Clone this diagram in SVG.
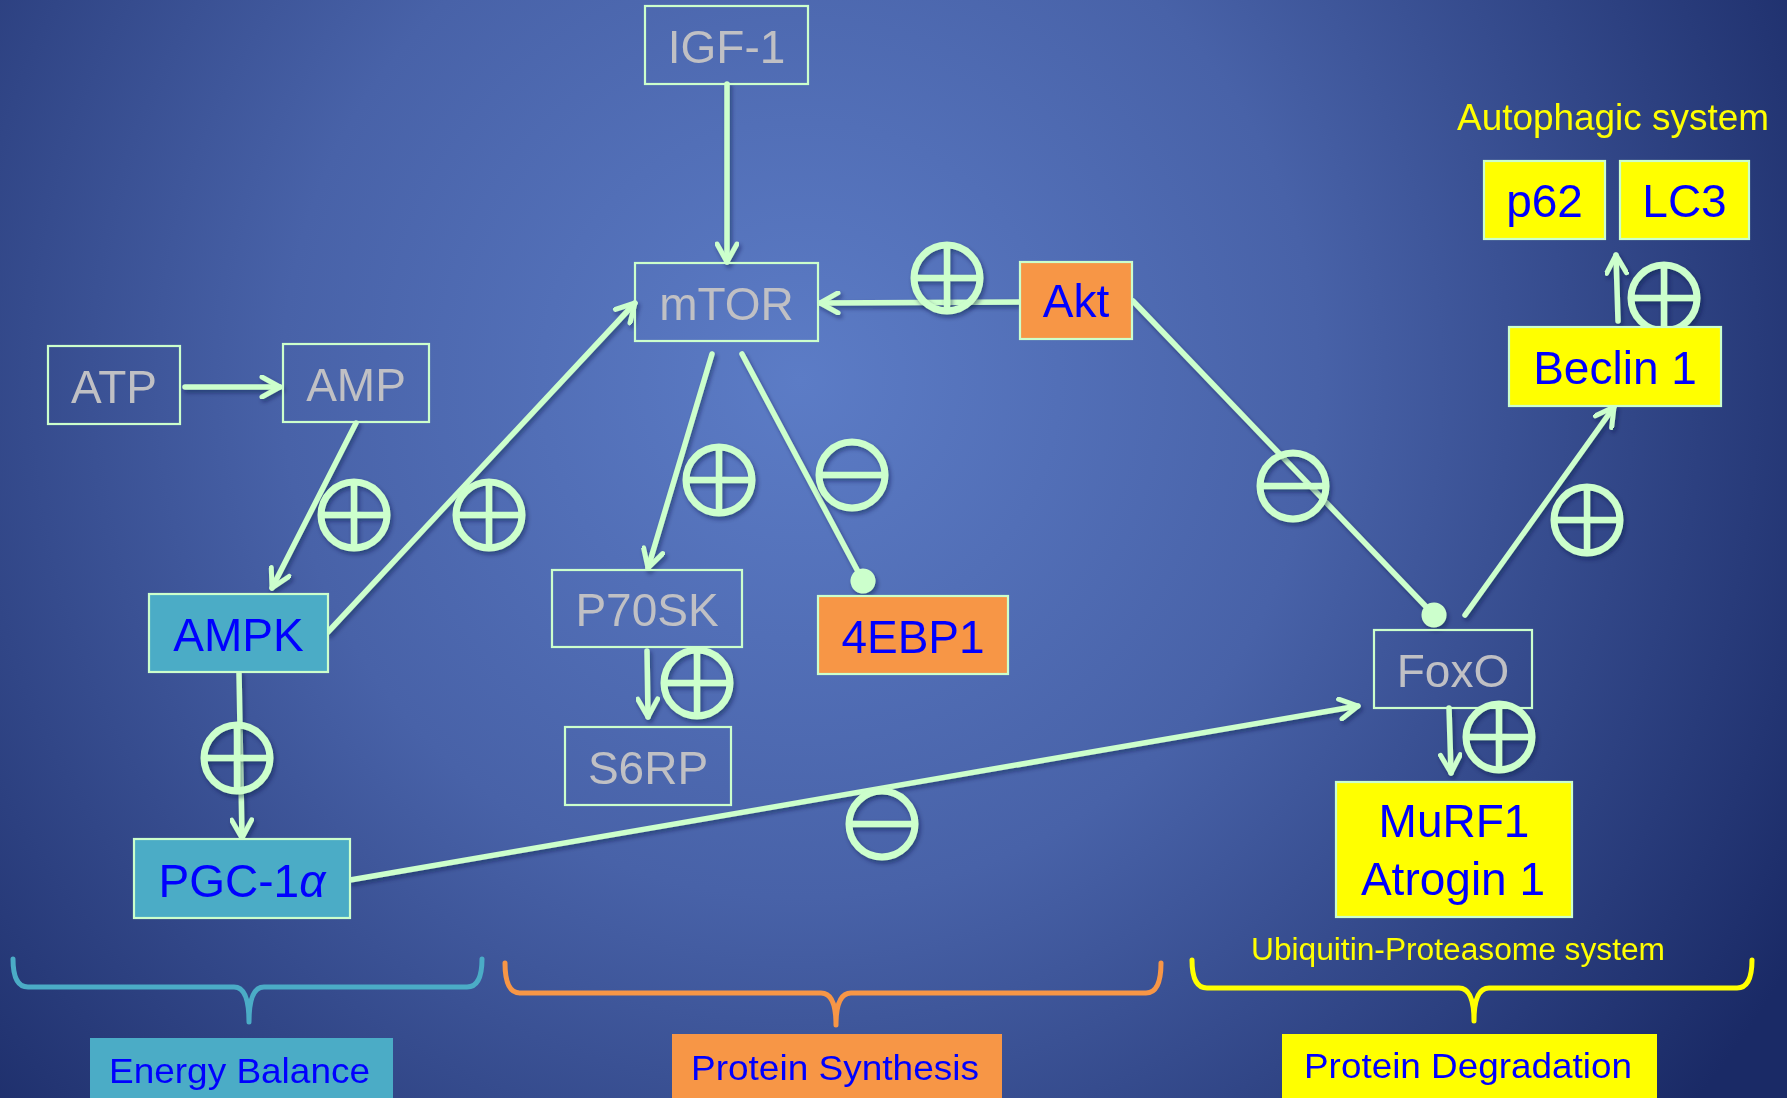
<svg xmlns="http://www.w3.org/2000/svg" width="1787" height="1098" viewBox="0 0 1787 1098">
<defs>
<radialGradient id="bg" cx="800" cy="380" r="1150" gradientUnits="userSpaceOnUse">
<stop offset="0" stop-color="#5C7CC6"/>
<stop offset="0.45" stop-color="#4862A8"/>
<stop offset="1" stop-color="#1A2A66"/>
</radialGradient>
<marker id="arr" viewBox="0 0 24 24" refX="21" refY="12" markerWidth="24" markerHeight="24" markerUnits="userSpaceOnUse" orient="auto">
<path d="M3,2 L21,12 L3,22" fill="none" stroke="#CCFFCC" stroke-width="5" stroke-linecap="round" stroke-linejoin="round"/>
</marker>
<marker id="dot" viewBox="0 0 28 28" refX="14" refY="14" markerWidth="28" markerHeight="28" markerUnits="userSpaceOnUse" orient="auto">
<circle cx="14" cy="14" r="12.5" fill="#CCFFCC"/>
</marker>
<filter id="sh" x="-10%" y="-10%" width="120%" height="120%">
<feDropShadow dx="2" dy="3" stdDeviation="2" flood-color="#0A1540" flood-opacity="0.45"/>
</filter>
<g id="plus">
<circle cx="0" cy="0" r="33" fill="none" stroke="#CCFFCC" stroke-width="7"/>
<line x1="-33" y1="0" x2="33" y2="0" stroke="#CCFFCC" stroke-width="6.5"/>
<line x1="0" y1="-33" x2="0" y2="33" stroke="#CCFFCC" stroke-width="6.5"/>
</g>
<g id="minus">
<circle cx="0" cy="0" r="33" fill="none" stroke="#CCFFCC" stroke-width="7"/>
<line x1="-33" y1="0" x2="33" y2="0" stroke="#CCFFCC" stroke-width="6.5"/>
</g>
</defs>
<style>
.box{fill:none;stroke:#CCFFCC;stroke-width:2.2}
.teal{fill:#4BACC6;stroke:#CCFFCC;stroke-width:2.2}
.orange{fill:#F79646;stroke:#CCFFCC;stroke-width:2.2}
.yel{fill:#FFFF00;stroke:#CCFFCC;stroke-width:2.2}
.gt{font-family:"Liberation Sans",Arial,sans-serif;font-size:46px;fill:#C0C0C4;text-anchor:middle}
.bt{font-family:"Liberation Sans",Arial,sans-serif;font-size:46px;fill:#0000FF;text-anchor:middle}
.yt{font-family:"Liberation Sans",Arial,sans-serif;fill:#FFFF00}
.lt{font-family:"Liberation Sans",Arial,sans-serif;font-size:35px;fill:#0000FF}
.c{fill:none;stroke:#CCFFCC;stroke-width:5.5;stroke-linecap:round}
.br{fill:none;stroke-width:5;stroke-linecap:round;stroke-linejoin:round}
</style>
<rect x="0" y="0" width="1787" height="1098" fill="url(#bg)"/>

<g id="connectors" filter="url(#sh)">
<line class="c" x1="185" y1="387" x2="280" y2="387" marker-end="url(#arr)"/>
<line class="c" x1="356" y1="423" x2="272" y2="588" marker-end="url(#arr)"/>
<line class="c" x1="328" y1="632" x2="635" y2="303" marker-end="url(#arr)"/>
<line class="c" x1="727" y1="84" x2="727" y2="262" marker-end="url(#arr)"/>
<line class="c" x1="1020" y1="302" x2="820" y2="303" marker-end="url(#arr)"/>
<line class="c" x1="712" y1="354" x2="648" y2="568" marker-end="url(#arr)"/>
<line class="c" x1="742" y1="354" x2="863" y2="581" marker-end="url(#dot)"/>
<line class="c" x1="647" y1="651" x2="648" y2="717" marker-end="url(#arr)"/>
<line class="c" x1="239" y1="673" x2="242" y2="838" marker-end="url(#arr)"/>
<line class="c" x1="350" y1="880" x2="1358" y2="706" marker-end="url(#arr)"/>
<line class="c" x1="1133" y1="301" x2="1434" y2="615" marker-end="url(#dot)"/>
<line class="c" x1="1465" y1="615" x2="1614" y2="407" marker-end="url(#arr)"/>
<line class="c" x1="1618" y1="321" x2="1616" y2="255" marker-end="url(#arr)"/>
<line class="c" x1="1449" y1="708" x2="1451" y2="773" marker-end="url(#arr)"/>
</g>

<g id="signs" filter="url(#sh)">
<use href="#plus" x="354" y="515"/>
<use href="#plus" x="489" y="515"/>
<use href="#plus" x="947" y="278"/>
<use href="#plus" x="719" y="480"/>
<use href="#plus" x="697" y="683"/>
<use href="#plus" x="237" y="758"/>
<use href="#plus" x="1664" y="298"/>
<use href="#plus" x="1587" y="520"/>
<use href="#plus" x="1499" y="737"/>
<use href="#minus" x="852" y="475"/>
<use href="#minus" x="1293" y="486"/>
<use href="#minus" x="882" y="824"/>
</g>

<g id="IGF-1"><rect class="box" x="645" y="6" width="163" height="78"/><text class="gt" x="726.5" y="63">IGF-1</text></g>
<g id="mTOR"><rect class="box" x="635" y="263" width="183" height="78"/><text class="gt" x="726.5" y="320">mTOR</text></g>
<g id="Akt"><rect class="orange" x="1020" y="262" width="112" height="77"/><text class="bt" x="1076" y="317">Akt</text></g>
<g id="ATP"><rect class="box" x="48" y="346" width="132" height="78"/><text class="gt" x="114" y="403">ATP</text></g>
<g id="AMP"><rect class="box" x="283" y="344" width="146" height="78"/><text class="gt" x="356" y="401">AMP</text></g>
<g id="AMPK"><rect class="teal" x="149" y="594" width="179" height="78"/><text class="bt" x="238.5" y="651">AMPK</text></g>
<g id="PGC-1a"><rect class="teal" x="134" y="839" width="216" height="79"/><text class="bt" x="242" y="897">PGC-1<tspan font-style="italic">α</tspan></text></g>
<g id="P70SK"><rect class="box" x="552" y="570" width="190" height="77"/><text class="gt" x="647" y="626">P70SK</text></g>
<g id="4EBP1"><rect class="orange" x="818" y="596" width="190" height="78"/><text class="bt" x="913" y="653">4EBP1</text></g>
<g id="S6RP"><rect class="box" x="565" y="727" width="166" height="78"/><text class="gt" x="648" y="784">S6RP</text></g>
<g id="FoxO"><rect class="box" x="1374" y="630" width="158" height="78"/><text class="gt" x="1453" y="687">FoxO</text></g>
<g id="MuRF1"><rect class="yel" x="1336" y="782" width="236" height="135"/><text class="bt" x="1454" y="837">MuRF1</text><text class="bt" x="1453" y="895">Atrogin 1</text></g>
<g id="Beclin1"><rect class="yel" x="1509" y="327" width="212" height="79"/><text class="bt" x="1615" y="384">Beclin 1</text></g>
<g id="p62"><rect class="yel" x="1484" y="161" width="121" height="78"/><text class="bt" x="1544.5" y="217">p62</text></g>
<g id="LC3"><rect class="yel" x="1620" y="161" width="129" height="78"/><text class="bt" x="1684.5" y="217">LC3</text></g>

<g id="autophagic-label"><text class="yt" x="1457" y="130" font-size="36" textLength="312" lengthAdjust="spacingAndGlyphs">Autophagic system</text></g>
<g id="ups-label"><text class="yt" x="1251" y="960" font-size="31" textLength="414" lengthAdjust="spacingAndGlyphs">Ubiquitin-Proteasome system</text></g>

<g id="braces">
<path class="br" stroke="#4BACC6" d="M13,959 Q13,987 28,987 L234,987 Q249,987 249,1022 Q249,987 264,987 L467,987 Q482,987 482,959"/>
<path class="br" stroke="#F79646" d="M505,963 Q505,993 520,993 L821,993 Q836,993 836,1025 Q836,993 851,993 L1146,993 Q1161,993 1161,963"/>
<path class="br" stroke="#FFFF00" d="M1192,960 Q1192,988 1207,988 L1459,988 Q1474,988 1474,1021 Q1474,988 1489,988 L1737,988 Q1752,988 1752,960"/>
</g>

<g id="EnergyBalance"><rect x="90" y="1038" width="303" height="70" fill="#4BACC6"/><text class="lt" x="109" y="1083" textLength="261" lengthAdjust="spacingAndGlyphs">Energy Balance</text></g>
<g id="ProteinSynthesis"><rect x="672" y="1034" width="330" height="74" fill="#F79646"/><text class="lt" x="691" y="1080" textLength="288" lengthAdjust="spacingAndGlyphs">Protein Synthesis</text></g>
<g id="ProteinDegradation"><rect x="1282" y="1034" width="375" height="74" fill="#FFFF00"/><text class="lt" x="1304" y="1078" textLength="328" lengthAdjust="spacingAndGlyphs">Protein Degradation</text></g>
</svg>
